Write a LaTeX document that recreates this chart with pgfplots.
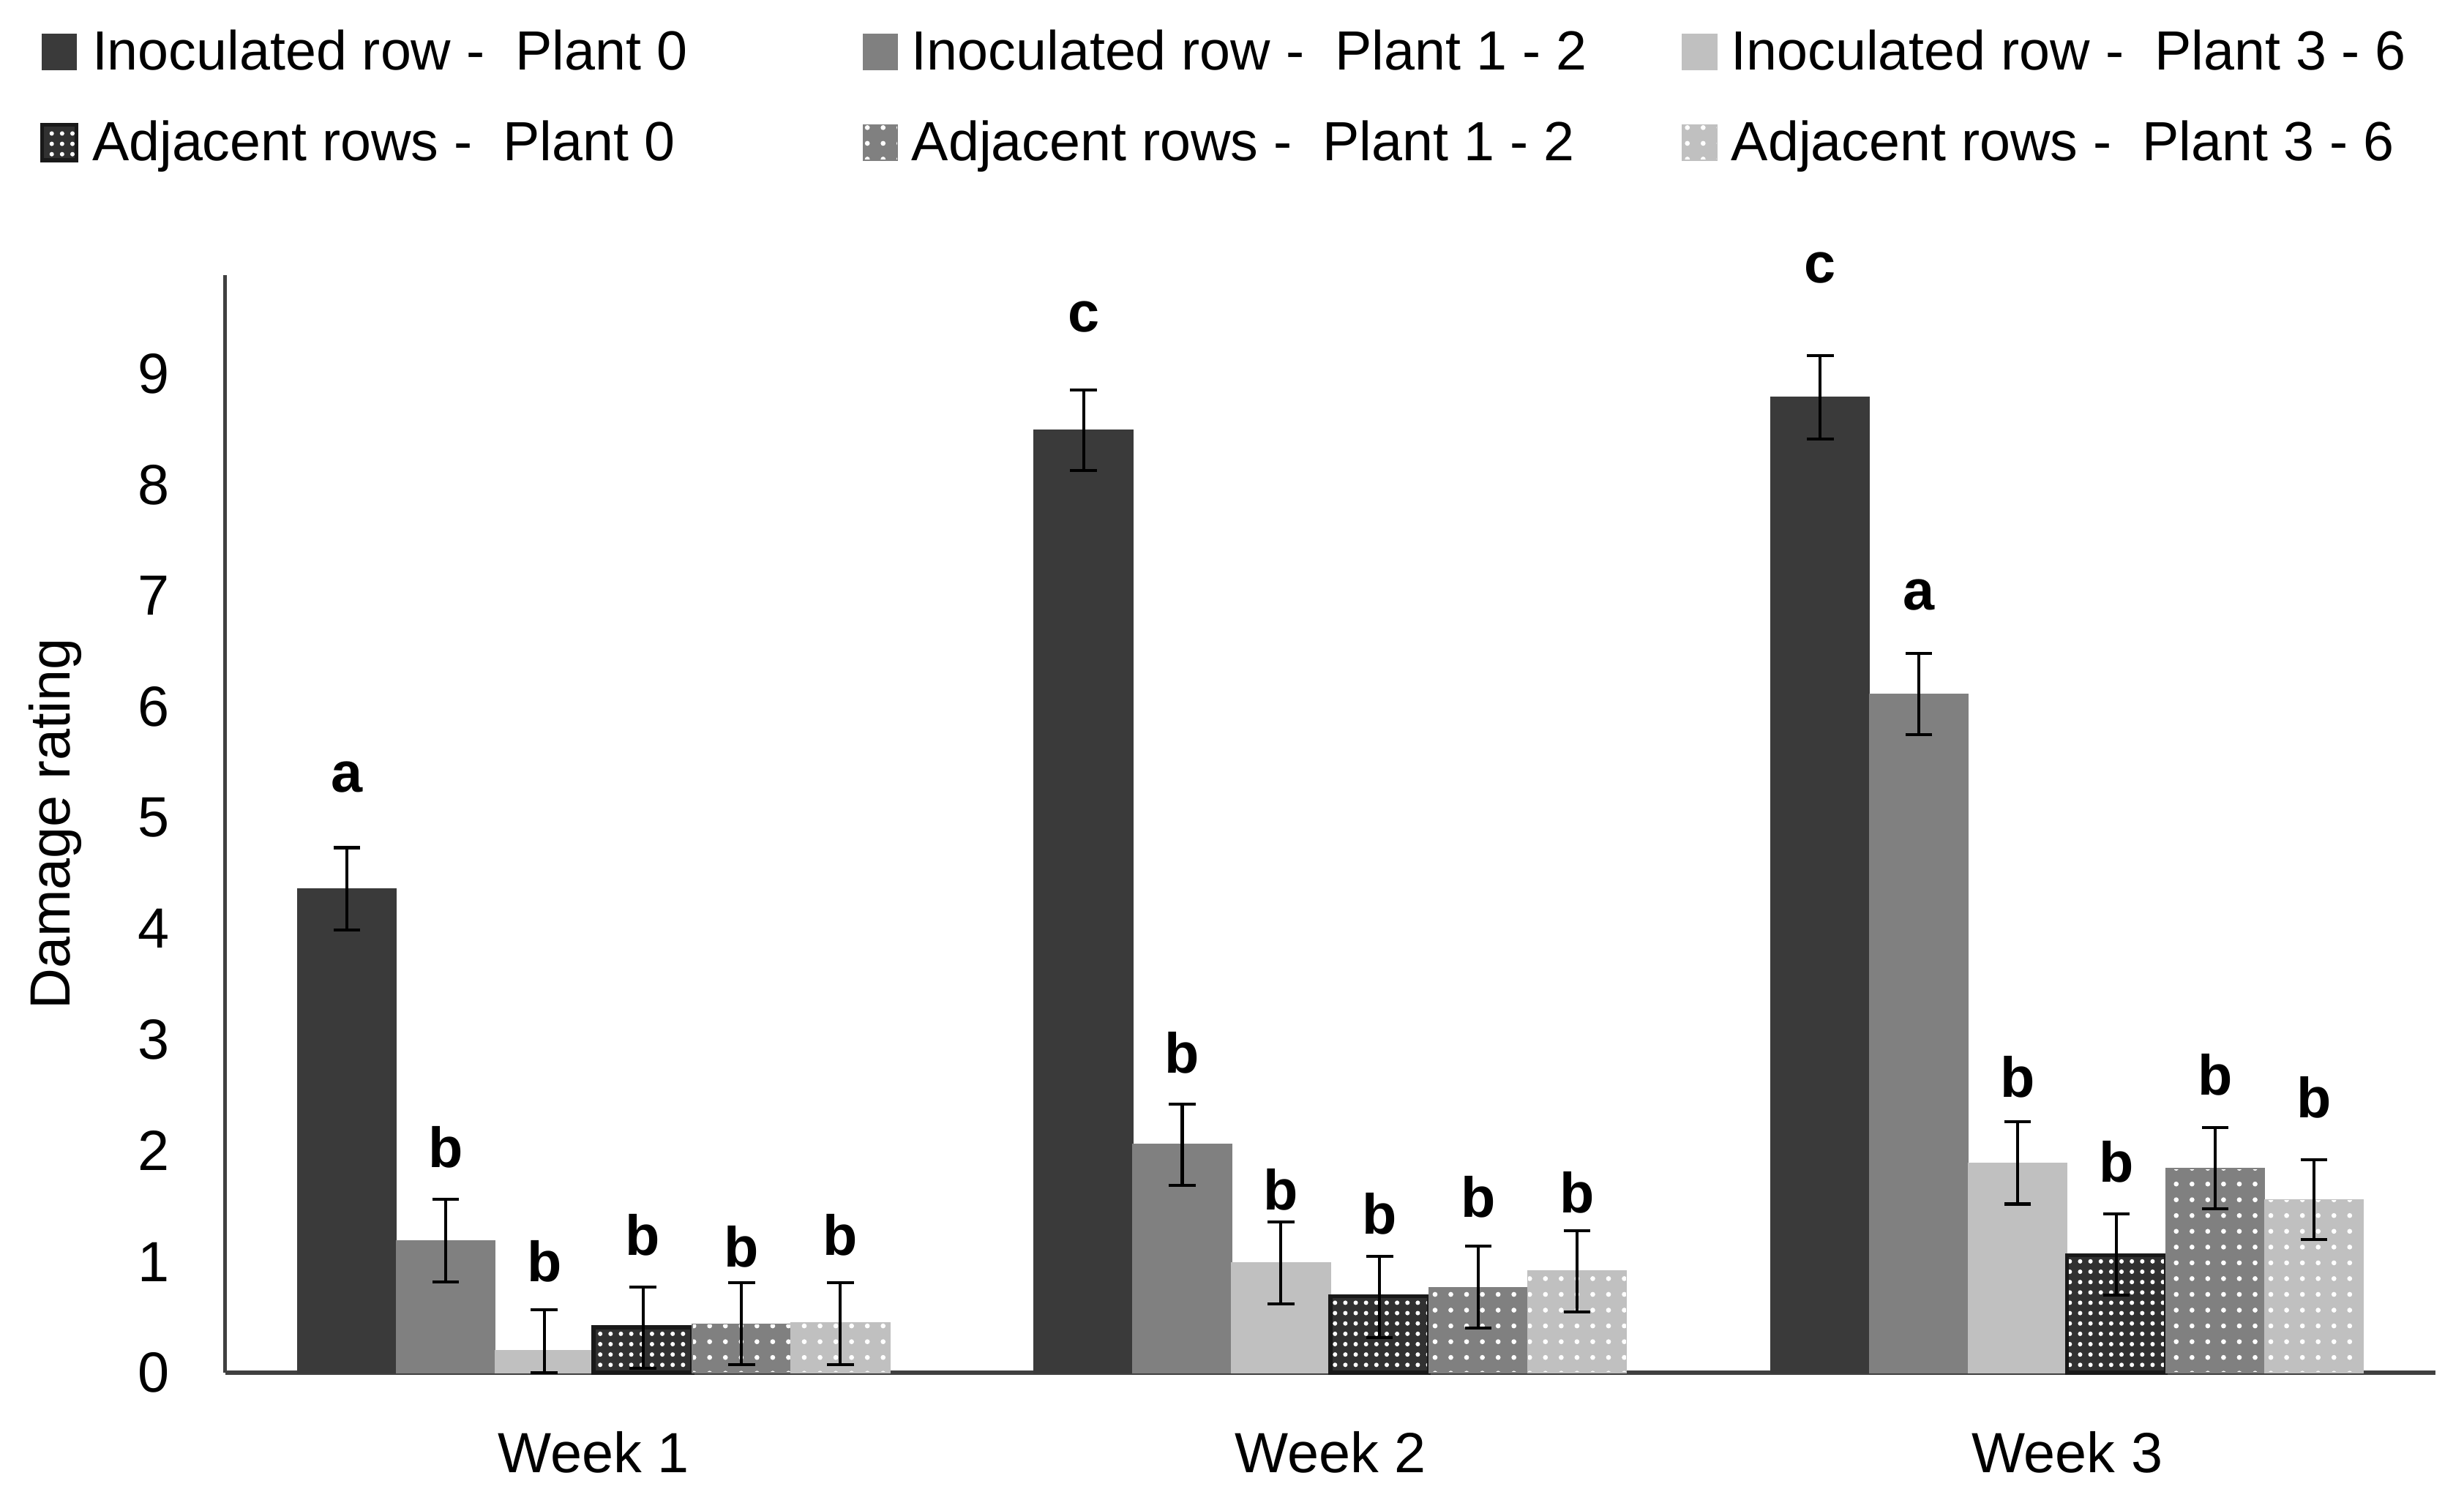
\documentclass[border=0pt]{standalone}
\usepackage{fontspec}
\setmainfont{Liberation Sans}
\usepackage{pgfplots}
\usepackage{pgfplotstable}
\pgfplotsset{compat=1.18}
\usetikzlibrary{patterns.meta}

\definecolor{dk}{HTML}{3A3A3A}
\definecolor{md}{HTML}{808080}
\definecolor{lt}{HTML}{C0C0C0}
\definecolor{axc}{HTML}{404040}

\newcommand{\cf}{\fontsize{11.5}{13.8}\selectfont}
\newcommand{\lf}{\fontsize{11.2}{13.4}\selectfont}

% bar positions: group + (k-2.5)*0.134
\pgfplotstableread{
x y ep em
-0.335 4.36 0.37 0.37
0.665 8.49 0.36 0.36
1.665 8.79 0.37 0.38
}\inocA
\pgfplotstableread{
x y ep em
-0.201 1.19 0.37 0.37
0.799 2.06 0.36 0.37
1.799 6.11 0.37 0.36
}\inocB
\pgfplotstableread{
x y ep em
-0.067 0.20 0.37 0.20
0.933 0.99 0.37 0.37
1.933 1.89 0.37 0.37
}\inocC
\pgfplotstableread{
x y ep em
0.067 0.41 0.36 0.37
1.067 0.69 0.36 0.37
2.067 1.06 0.37 0.36
}\adjA
\pgfplotstableread{
x y ep em
0.201 0.44 0.37 0.37
1.201 0.77 0.37 0.37
2.201 1.84 0.37 0.36
}\adjB
\pgfplotstableread{
x y ep em
0.335 0.45 0.36 0.38
1.335 0.92 0.36 0.37
2.335 1.56 0.36 0.36
}\adjC
\pgfplotstableread{
x y l
-0.335 5.23 a
-0.201 1.85 b
-0.067 0.82 b
0.067 1.06 b
0.201 0.95 b
0.335 1.06 b
0.665 9.38 c
0.799 2.70 b
0.933 1.47 b
1.067 1.25 b
1.201 1.40 b
1.335 1.44 b
1.665 9.82 c
1.799 6.87 a
1.933 2.48 b
2.067 1.72 b
2.201 2.50 b
2.335 2.30 b
}\letters

\begin{document}
\begin{tikzpicture}
\pgfplotsset{
  mybar/.style={ybar, bar width=0.134, bar shift=0pt, line width=0.2pt,
    error bars/y dir=both, error bars/y explicit,
    error bars/error bar style={draw=black, line width=0.6pt, solid},
    error bars/error mark options={rotate=90, draw=black, mark size=2.7pt, line width=0.6pt}},
}
\begin{axis}[
  at={(0,0)}, anchor=south west,
  scale only axis,
  width=448.5pt, height=222.8pt,
  xmin=-0.5, xmax=2.5,
  ymin=0, ymax=9.89,
  enlargelimits=false,
  clip=false,
  axis lines*=left,
  axis line style={axc, line width=0.8pt},
  major tick length=0pt,
  xtick={0,1,2},
  xticklabels={Week 1,Week 2,Week 3},
  ytick={0,1,...,9},
  /pgf/number format/assume math mode=true,
  tick label style={font=\cf},
  xticklabel style={yshift=-8.4pt},
  yticklabel style={xshift=-7.8pt},
  ylabel={Damage rating},
  every axis y label/.style={at={(axis description cs:-0.077,0.5)}, rotate=90, anchor=center, font=\cf},
  legend columns=3,
  legend image code/.code={\draw[#1] (0pt,0pt) rectangle (7pt,7.2pt);},
  legend style={
    at={(axis description cs:-0.0838,1.2235)}, anchor=north west,
    draw=none, fill=none, inner sep=0pt, outer sep=0pt,
    font=\lf,
    cells={anchor=base west},
    nodes={inner sep=0pt, text depth=0pt},
    row sep=10.2pt,
    /tikz/every odd column/.style={column sep=2.8pt},
    /tikz/every even column/.style={column sep=16.3pt},
  },
]
\addplot[mybar, fill=dk, draw=dk] table[x=x, y=y, y error plus=ep, y error minus=em] {\inocA};
\addlegendentry{\makebox[140pt][l]{Inoculated row -~ Plant 0}}
\addplot[mybar, fill=md, draw=md] table[x=x, y=y, y error plus=ep, y error minus=em] {\inocB};
\addlegendentry{\makebox[140pt][l]{Inoculated row -~ Plant 1 - 2}}
\addplot[mybar, fill=lt, draw=lt] table[x=x, y=y, y error plus=ep, y error minus=em] {\inocC};
\addlegendentry{Inoculated row -~ Plant 3 - 6}
\addplot[mybar, fill=dk!85!black, draw=black!90, line width=0.8pt,
  postaction={pattern={Dots[distance=2.1pt, radius=0.45pt]}, pattern color=white}]
  table[x=x, y=y, y error plus=ep, y error minus=em] {\adjA};
\addlegendentry{\makebox[140pt][l]{Adjacent rows -~ Plant 0}}
\addplot[mybar, fill=md, draw=md,
  postaction={pattern={Dots[distance=3.2pt, radius=0.5pt]}, pattern color=white}]
  table[x=x, y=y, y error plus=ep, y error minus=em] {\adjB};
\addlegendentry{\makebox[140pt][l]{Adjacent rows -~ Plant 1 - 2}}
\addplot[mybar, fill=lt, draw=lt,
  postaction={pattern={Dots[distance=3.2pt, radius=0.5pt]}, pattern color=white}]
  table[x=x, y=y, y error plus=ep, y error minus=em] {\adjC};
\addlegendentry{Adjacent rows -~ Plant 3 - 6}

% significance letters
\addplot[forget plot, only marks, mark=none, nodes near coords,
  point meta=explicit symbolic,
  every node near coord/.append style={font=\cf\bfseries, anchor=base, inner sep=0pt}]
  table[x=x, y=y, meta=l] {\letters};
\end{axis}
\path (-45.7pt,-25.7pt) rectangle (454.3pt,278.6pt);
\end{tikzpicture}
\end{document}
